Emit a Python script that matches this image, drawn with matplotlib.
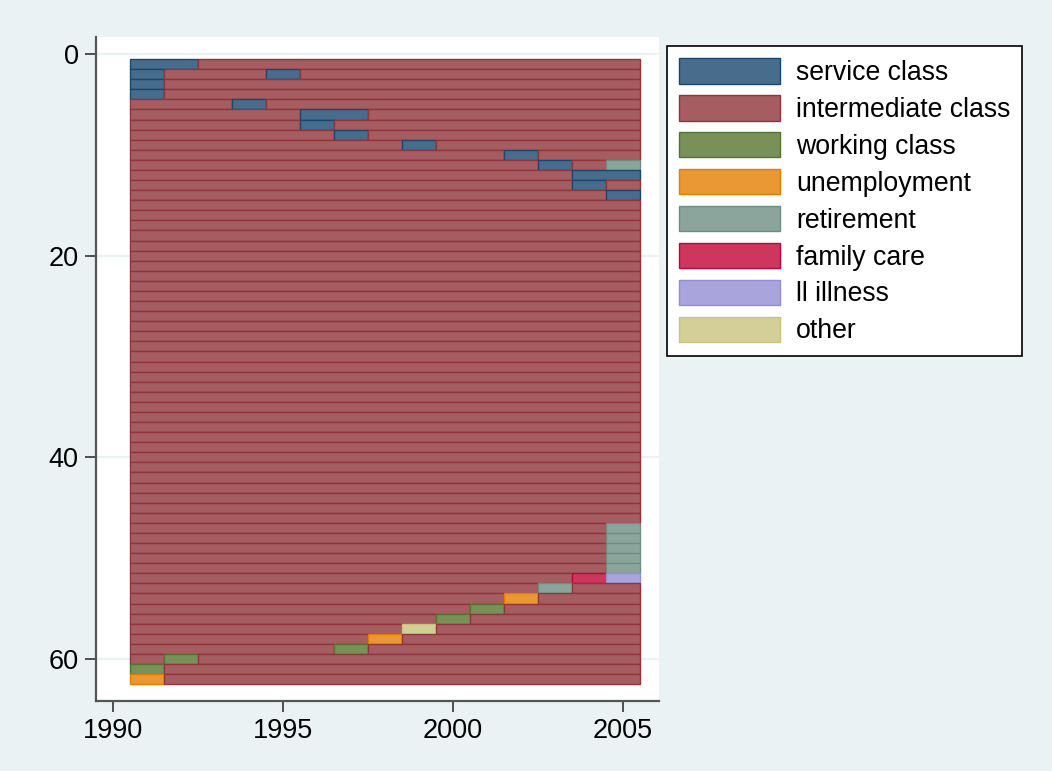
import matplotlib.pyplot as plt
from matplotlib.patches import Patch

plt.rcParams['font.family'] = ['Liberation Sans', 'DejaVu Sans']

# states, one letter per year 1991..2005, one string per sequence (row 1..62)
years = [1991, 1992, 1993, 1994, 1995, 1996, 1997, 1998, 1999, 2000,
         2001, 2002, 2003, 2004, 2005]

sequences = [
    "SSIIIIIIIIIIIII",
    "SIIISIIIIIIIIII",
    "SIIIIIIIIIIIIII",
    "SIIIIIIIIIIIIII",
    "IIISIIIIIIIIIII",
    "IIIIISSIIIIIIII",
    "IIIIISIIIIIIIII",
    "IIIIIISIIIIIIII",
    "IIIIIIIISIIIIII",
    "IIIIIIIIIIISIII",
    "IIIIIIIIIIIISIR",
    "IIIIIIIIIIIIISS",
    "IIIIIIIIIIIIISI",
    "IIIIIIIIIIIIIIS",
    "IIIIIIIIIIIIIII",
    "IIIIIIIIIIIIIII",
    "IIIIIIIIIIIIIII",
    "IIIIIIIIIIIIIII",
    "IIIIIIIIIIIIIII",
    "IIIIIIIIIIIIIII",
    "IIIIIIIIIIIIIII",
    "IIIIIIIIIIIIIII",
    "IIIIIIIIIIIIIII",
    "IIIIIIIIIIIIIII",
    "IIIIIIIIIIIIIII",
    "IIIIIIIIIIIIIII",
    "IIIIIIIIIIIIIII",
    "IIIIIIIIIIIIIII",
    "IIIIIIIIIIIIIII",
    "IIIIIIIIIIIIIII",
    "IIIIIIIIIIIIIII",
    "IIIIIIIIIIIIIII",
    "IIIIIIIIIIIIIII",
    "IIIIIIIIIIIIIII",
    "IIIIIIIIIIIIIII",
    "IIIIIIIIIIIIIII",
    "IIIIIIIIIIIIIII",
    "IIIIIIIIIIIIIII",
    "IIIIIIIIIIIIIII",
    "IIIIIIIIIIIIIII",
    "IIIIIIIIIIIIIII",
    "IIIIIIIIIIIIIII",
    "IIIIIIIIIIIIIII",
    "IIIIIIIIIIIIIII",
    "IIIIIIIIIIIIIII",
    "IIIIIIIIIIIIIII",
    "IIIIIIIIIIIIIIR",
    "IIIIIIIIIIIIIIR",
    "IIIIIIIIIIIIIIR",
    "IIIIIIIIIIIIIIR",
    "IIIIIIIIIIIIIIR",
    "IIIIIIIIIIIIIFL",
    "IIIIIIIIIIIIRII",
    "IIIIIIIIIIIUIII",
    "IIIIIIIIIIWIIII",
    "IIIIIIIIIWIIIII",
    "IIIIIIIIOIIIIII",
    "IIIIIIIUIIIIIII",
    "IIIIIIWIIIIIIII",
    "IWIIIIIIIIIIIII",
    "WIIIIIIIIIIIIII",
    "UIIIIIIIIIIIIII",
]

state_codes = ['S', 'I', 'W', 'U', 'R', 'F', 'L', 'O']
state_labels = ['service class', 'intermediate class', 'working class',
                'unemployment', 'retirement', 'family care', 'll illness', 'other']
fill_colors = ['#486C8C', '#A65D62', '#779159', '#E99833',
               '#8BA59D', '#CD375D', '#A9A4DB', '#D4CE98']
edge_colors = ['#1A476F', '#90353B', '#55752F', '#E37E00',
               '#6E8E84', '#C10534', '#938DD2', '#CAC27E']

y_ticks = [0, 20, 40, 60]
x_ticks = [1990, 1995, 2000, 2005]

bg = '#EAF2F3'
fig = plt.figure(figsize=(10.52, 7.71), dpi=100, facecolor=bg)
ax = fig.add_axes([96 / 1052, 1 - 701 / 771, 563 / 1052, 664 / 771])
ax.set_facecolor('white')

# horizontal grid lines behind the bars
for t in y_ticks:
    ax.axhline(t, color=bg, lw=1.6, zorder=0)

# draw each episode (run of same state) as one bar
for row, seq in enumerate(sequences, start=1):
    start = 0
    while start < len(seq):
        end = start
        while end + 1 < len(seq) and seq[end + 1] == seq[start]:
            end += 1
        k = state_codes.index(seq[start])
        ax.barh(row, years[end] - years[start] + 1, left=years[start] - 0.5,
                height=1.0, color=fill_colors[k], edgecolor=edge_colors[k],
                linewidth=1.0, zorder=2)
        start = end + 1

ax.set_xlim(1989.5, 2006.06)
ax.set_ylim(64.17, -1.69)
ax.set_xticks(x_ticks)
ax.set_yticks(y_ticks)
ax.tick_params(axis='both', labelsize=19.5, length=8, width=1.2,
               color='#333333', pad=4.5)

for s in ['top', 'right']:
    ax.spines[s].set_visible(False)
for s in ['left', 'bottom']:
    ax.spines[s].set_color('#555555')
    ax.spines[s].set_linewidth(1.6)

handles = [Patch(facecolor=f, edgecolor=e, linewidth=1.0)
           for f, e in zip(fill_colors, edge_colors)]
leg = fig.legend(handles, state_labels, loc='upper left',
                 bbox_to_anchor=(667 / 1052, 1 - 46 / 771),
                 bbox_transform=fig.transFigure, borderaxespad=0,
                 fontsize=19.2, handlelength=3.78, handleheight=1.1,
                 handletextpad=0.6, labelspacing=0.34, borderpad=0.45,
                 frameon=True, fancybox=False, framealpha=1)
leg.get_frame().set_edgecolor('black')
leg.get_frame().set_linewidth(1.2)

fig.savefig('out.png', dpi=100, facecolor=bg)
